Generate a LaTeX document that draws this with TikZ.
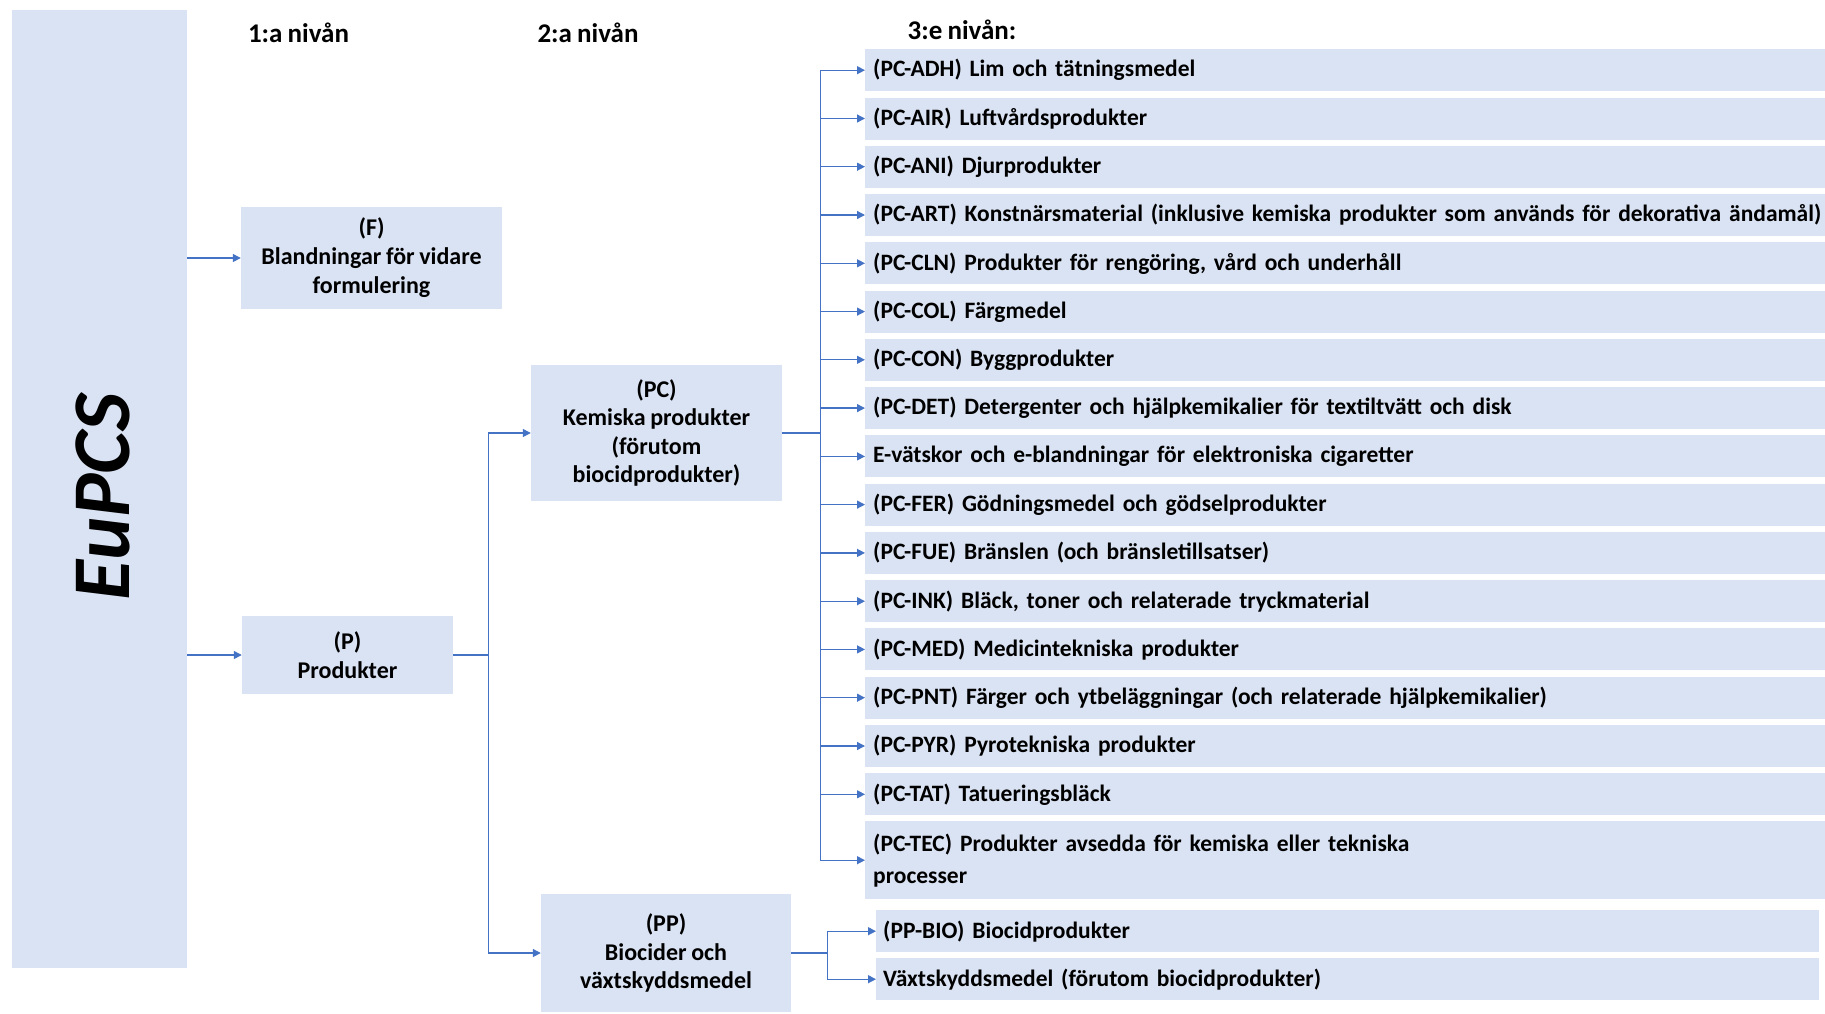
\documentclass[tikz,border=0pt]{standalone}
\usepackage{fontspec}
\setmainfont{Carlito}[WordSpace=0.85]
\usetikzlibrary{arrows.meta}
\definecolor{boxc}{HTML}{DAE3F3}
\definecolor{linec}{HTML}{4472C4}
\begin{document}
\begin{tikzpicture}[x=1pt,y=-1pt,
  box/.style={fill=boxc, draw=none, inner sep=0pt, align=center, font=\fontsize{24}{29}\selectfont\bfseries},
  listbox/.style={fill=boxc, draw=none, anchor=north west, text width=944pt, inner xsep=8pt, inner ysep=0pt, minimum height=42pt, align=left, font=\fontsize{23.5}{28}\selectfont\bfseries},
  subbox/.style={listbox, text width=929pt, inner xsep=7pt},
  head/.style={font=\fontsize{27}{30}\selectfont\bfseries, inner sep=0pt},
  arr/.style={draw=linec, line width=1.3pt, -{Triangle[length=8pt,width=8pt]}},
  conn/.style={draw=linec, line width=1.3pt}]
\useasboundingbox (0,0) rectangle (1825,1013);
% EuPCS column
\node[fill=boxc, draw=none, inner sep=0pt, minimum width=175pt, minimum height=958pt] (eu) at (99.5,489) {};
\node[rotate=90, inner sep=0pt, font=\fontsize{82}{82}\selectfont\bfseries\itshape] (eutext) at (103,497) {EuPCS};
% headers
\node[head] (h1) at (298.5,33) {1:a nivån};
\node[head] (h2) at (588,33) {2:a nivån};
\node[head] (h3) at (962,30) {3:e nivån:};
% level 1
\node[box, minimum width=261pt, minimum height=102pt] (F) at (371.5,258) {(F)\\Blandningar för vidare\\formulering};
\node[box, minimum width=211pt, minimum height=78pt] (P) at (347.5,655) {(P)\\Produkter};
% level 2
\node[box, minimum width=251pt, minimum height=136pt, font=\fontsize{24}{28.5}\selectfont\bfseries] (PC) at (656.5,433) {(PC)\\Kemiska produkter\\(förutom\\biocidprodukter)};
\node[box, minimum width=250pt, minimum height=118pt, font=\fontsize{24}{28.5}\selectfont\bfseries] (PP) at (666,953) {(PP)\\Biocider och\\växtskyddsmedel};
% level 3
\node[listbox] (adh) at (865,49) {(PC-ADH) Lim och tätningsmedel};
\node[listbox] (air) at (865,97.3) {(PC-AIR) Luftvårdsprodukter};
\node[listbox] (ani) at (865,145.5) {(PC-ANI) Djurprodukter};
\node[listbox] (art) at (865,193.8) {\mbox{(PC-ART) Konstnärsmaterial (inklusive kemiska produkter som används för dekorativa ändamål)}};
\node[listbox] (cln) at (865,242.1) {(PC-CLN) Produkter för rengöring, vård och underhåll};
\node[listbox] (col) at (865,290.4) {(PC-COL) Färgmedel};
\node[listbox] (con) at (865,338.6) {(PC-CON) Byggprodukter};
\node[listbox] (det) at (865,386.9) {(PC-DET) Detergenter och hjälpkemikalier för textiltvätt och disk};
\node[listbox] (ev) at (865,435.2) {E-vätskor och e-blandningar för elektroniska cigaretter};
\node[listbox] (fer) at (865,483.4) {(PC-FER) Gödningsmedel och gödselprodukter};
\node[listbox] (fue) at (865,531.7) {(PC-FUE) Bränslen (och bränsletillsatser)};
\node[listbox] (ink) at (865,580) {(PC-INK) Bläck, toner och relaterade tryckmaterial};
\node[listbox] (med) at (865,628.2) {(PC-MED) Medicintekniska produkter};
\node[listbox] (pnt) at (865,676.5) {(PC-PNT) Färger och ytbeläggningar (och relaterade hjälpkemikalier)};
\node[listbox] (pyr) at (865,724.8) {(PC-PYR) Pyrotekniska produkter};
\node[listbox] (tat) at (865,773.1) {(PC-TAT) Tatueringsbläck};
\node[listbox, minimum height=78pt] (tec) at (865,821) {(PC-TEC) Produkter avsedda för kemiska eller tekniska\\[4pt]processer};
\node[subbox] (bio) at (876,910) {(PP-BIO) Biocidprodukter};
\node[subbox] (vax) at (876,958) {Växtskyddsmedel (förutom biocidprodukter)};
% connectors
\draw[arr] (eu.east |- F.west) -- (F.west);
\draw[arr] (eu.east |- P.west) -- (P.west);
\path (P.east) ++(35,0) coordinate (j1);
\draw[conn] (P.east) -- (j1);
\draw[arr] (j1) |- (PC.west);
\draw[arr] (j1) |- (PP.west);
\path (PC.east) ++(38,0) coordinate (j2);
\draw[conn] (PC.east) -- (j2);
\foreach \n in {adh,air,ani,art,cln,col,con,det,ev,fer,fue,ink,med,pnt,pyr,tat,tec}
  \draw[arr] (j2) |- (\n.west);
\path (PP.east) ++(36,0) coordinate (j3);
\draw[conn] (PP.east) -- (j3);
\draw[arr] (j3) |- (bio.west);
\draw[arr] (j3) |- (vax.west);
\end{tikzpicture}
\end{document}
